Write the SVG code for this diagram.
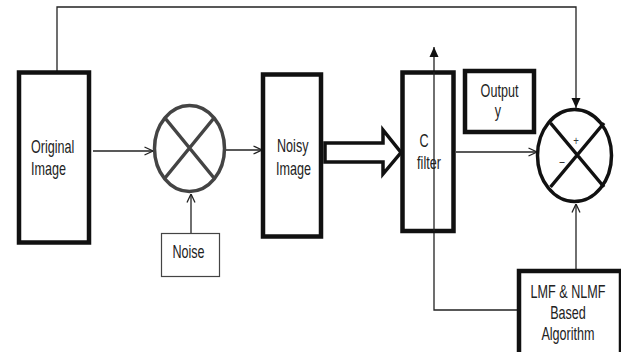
<svg xmlns="http://www.w3.org/2000/svg" width="621" height="352" viewBox="0 0 621 352">
<style>
.box{fill:#fff;stroke:#111;stroke-width:4.5}
.thin{fill:#fff;stroke:#444;stroke-width:1.2}
.ln{fill:none;stroke:#222;stroke-width:1.3}
.t{font-family:"Liberation Sans",Arial,sans-serif;font-size:18px;fill:#222}
</style>
<defs>
<marker id="v" viewBox="0 0 10 10" refX="9.5" refY="5" markerWidth="10" markerHeight="10" markerUnits="userSpaceOnUse" orient="auto">
<path d="M1,1 L9.5,5 L1,9" fill="none" stroke="#222" stroke-width="1.3"/>
</marker>
<marker id="f" viewBox="0 0 10 10" refX="10" refY="5" markerWidth="11" markerHeight="10" markerUnits="userSpaceOnUse" orient="auto">
<path d="M0,0.5 L10,5 L0,9.5 Z" fill="#111"/>
</marker>
</defs>
<g id="connectors">
<path class="ln" d="M57,71 V7 H576 V108" marker-end="url(#f)"/>
<path class="ln" d="M93,151 H153" marker-end="url(#v)"/>
<path class="ln" d="M225,150 H262" marker-end="url(#v)"/>
<path class="ln" d="M191,233 V194" marker-end="url(#v)"/>
<path class="ln" d="M456,152 H537" marker-end="url(#v)"/>
<path class="ln" d="M576,269 V204" marker-end="url(#v)"/>
<path class="ln" d="M517,310 H434 V47" marker-end="url(#f)"/>
<path d="M325,143 H383 V130 L401,152.5 L383,174 V162 H325 Z" fill="#fff" stroke="#111" stroke-width="3.5" stroke-linejoin="miter"/>
</g>
<g id="original-image">
<rect class="box" x="19" y="72.5" width="70" height="170"/>
<text class="t" transform="translate(31,153) scale(0.7,1)">Original</text>
<text class="t" transform="translate(31,175) scale(0.7,1)">Image</text>
</g>
<g id="mixer">
<ellipse cx="189.5" cy="148.5" rx="35" ry="43" fill="#fff" stroke="#444" stroke-width="3.5"/>
<path d="M165,118 L214,178 M214,118 L165,178" stroke="#444" stroke-width="3.5"/>
</g>
<g id="noise">
<rect class="thin" x="161.5" y="233.5" width="58" height="43"/>
<text class="t" transform="translate(188.5,258) scale(0.7,1)" text-anchor="middle">Noise</text>
</g>
<g id="noisy-image">
<rect class="box" x="263" y="74.5" width="58" height="162"/>
<text class="t" transform="translate(277,152) scale(0.7,1)">Noisy</text>
<text class="t" transform="translate(276,175) scale(0.7,1)">Image</text>
</g>
<g id="c-filter">
<rect class="box" x="402.5" y="72.5" width="51" height="158.5" fill="none"/>
<path class="ln" d="M434,72 V231"/>
<text class="t" transform="translate(424,147) scale(0.7,1)" text-anchor="middle">C</text>
<text class="t" transform="translate(429,169) scale(0.7,1)" text-anchor="middle">filter</text>
</g>
<g id="output-y">
<rect class="box" x="465" y="71" width="69" height="61"/>
<text class="t" transform="translate(499.5,97) scale(0.7,1)" text-anchor="middle">Output</text>
<text class="t" transform="translate(498,117) scale(0.7,1)" text-anchor="middle">y</text>
</g>
<g id="subtractor">
<ellipse cx="574.5" cy="155.5" rx="37" ry="46" fill="#fff" stroke="#111" stroke-width="3.5"/>
<path d="M550.5,123 L604,187 M604,123 L550.5,187" stroke="#111" stroke-width="3.5"/>
<text transform="translate(576,145) scale(0.8,1)" text-anchor="middle" font-family="Liberation Sans,Arial,sans-serif" font-size="12" fill="#333">+</text>
<text transform="translate(562,167) scale(0.8,1)" text-anchor="middle" font-family="Liberation Sans,Arial,sans-serif" font-size="13" fill="#333">−</text>
</g>
<g id="lmf-nlmf">
<rect class="box" x="519" y="271" width="102" height="84"/>
<text class="t" transform="translate(568,298) scale(0.7,1)" text-anchor="middle">LMF &amp; NLMF</text>
<text class="t" transform="translate(568,318.5) scale(0.7,1)" text-anchor="middle">Based</text>
<text class="t" transform="translate(568,340) scale(0.7,1)" text-anchor="middle">Algorithm</text>
</g>
</svg>
